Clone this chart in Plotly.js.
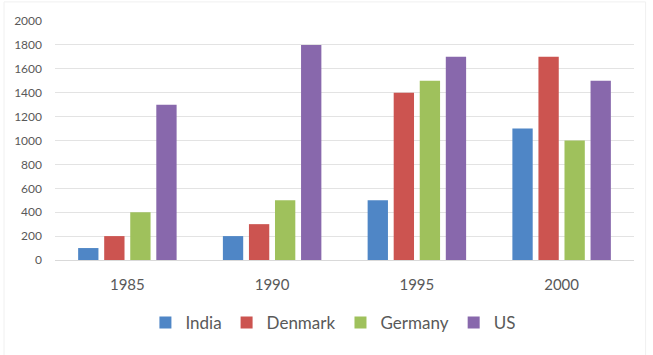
<!DOCTYPE html>
<html>
<head>
<meta charset="utf-8">
<script src="https://cdn.plot.ly/plotly-3.0.1.min.js"></script>
<style>
html,body{margin:0;padding:0;background:#fff;}
#chart{width:653px;height:355px;}
</style>
</head>
<body>
<div id="chart"></div>
<script>
const years = ['1985', '1990', '1995', '2000'];
const india = [100, 200, 500, 1100];
const denmark = [200, 300, 1400, 1700];
const germany = [400, 500, 1500, 1000];
const us = [1300, 1800, 1700, 1500];
const seriesNames = ['India', 'Denmark', 'Germany', 'US'];
const seriesColors = ['#4f86c6', '#cc5450', '#9fc15c', '#8868ac'];
const seriesValues = [india, denmark, germany, us];

const traces = seriesValues.map((vals, i) => ({
  type: 'bar',
  name: seriesNames[i],
  x: years,
  y: vals,
  marker: {color: seriesColors[i]}
}));

const layout = {
  width: 653,
  height: 355,
  margin: {l: 55, r: 19, t: 21, b: 95},
  paper_bgcolor: '#ffffff',
  plot_bgcolor: '#ffffff',
  font: {family: 'Lato, "Open Sans", sans-serif', color: '#595959'},
  barmode: 'group',
  bargap: 0.28,
  bargroupgap: 0.22,
  showlegend: true,
  legend: {
    orientation: 'h',
    x: 0.48, xanchor: 'center',
    y: -0.188, yanchor: 'top',
    font: {size: 17, color: '#595959'},
    itemwidth: 30,
    traceorder: 'normal'
  },
  xaxis: {
    type: 'category',
    tickfont: {size: 15, color: '#595959'},
    showgrid: false,
    showline: false,
    ticks: '',
    ticklabelstandoff: 14
  },
  yaxis: {
    range: [0, 2000],
    dtick: 200,
    tickfont: {size: 12, color: '#595959'},
    showgrid: true,
    gridcolor: '#e3e3e3',
    zeroline: true,
    zerolinecolor: '#d9d9d9',
    ticks: '',
    ticklabelstandoff: 12
  },
  shapes: [{
    type: 'rect', xref: 'paper', yref: 'paper',
    x0: -0.088, x1: 1.02, y0: -0.42, y1: 1.08,
    line: {color: '#f0f0f0', width: 1}
  }]
};

Plotly.newPlot('chart', traces, layout, {displayModeBar: false, staticPlot: true});
</script>
</body>
</html>
